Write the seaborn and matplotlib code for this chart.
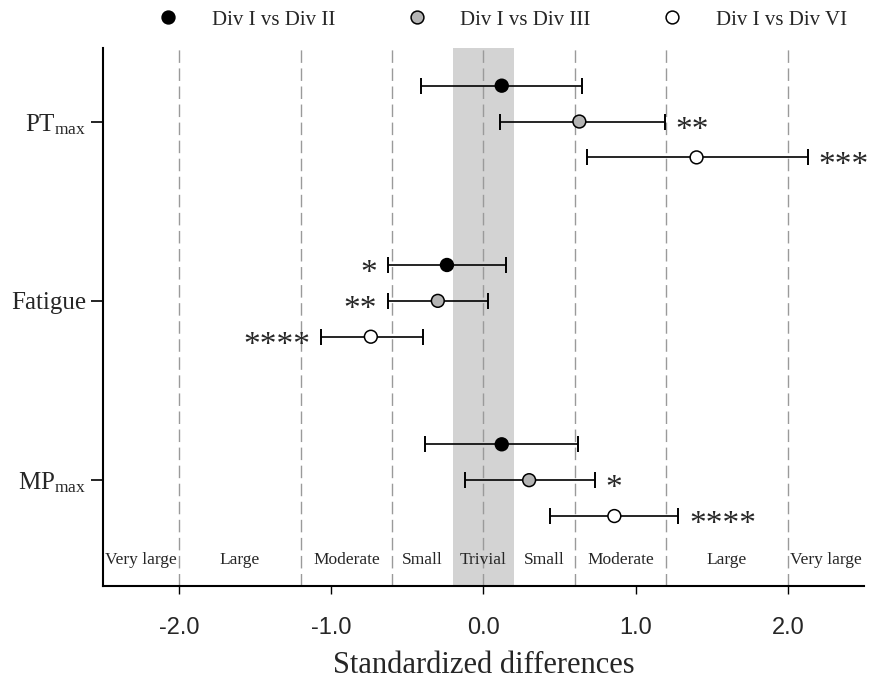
import numpy as np
import pandas as pd
import matplotlib
matplotlib.use("Agg")
import matplotlib.pyplot as plt
import seaborn as sns

# ---------------- data ----------------
measures = ["PT_max", "Fatigue", "MP_max"]
measure_labels = [r"PT$_{\mathrm{max}}$", "Fatigue", r"MP$_{\mathrm{max}}$"]
comparisons = ["Div I vs Div II", "Div I vs Div III", "Div I vs Div VI"]

pt_effect = [0.12, 0.63, 1.40]
pt_lower = [-0.41, 0.11, 0.68]
pt_upper = [0.65, 1.19, 2.13]
pt_stars = ["", "**", "***"]

fatigue_effect = [-0.24, -0.30, -0.74]
fatigue_lower = [-0.63, -0.63, -1.07]
fatigue_upper = [0.15, 0.03, -0.40]
fatigue_stars = ["*", "**", "****"]

mp_effect = [0.12, 0.30, 0.86]
mp_lower = [-0.385, -0.12, 0.44]
mp_upper = [0.62, 0.73, 1.28]
mp_stars = ["", "*", "****"]

thresholds = [-2.0, -1.2, -0.6, 0.0, 0.6, 1.2, 2.0]
zone_labels = ["Very large", "Large", "Moderate", "Small", "Trivial",
               "Small", "Moderate", "Large", "Very large"]
zone_centers = [-2.25, -1.6, -0.9, -0.4, 0.0, 0.4, 0.9, 1.6, 2.25]
xticks = [-2.0, -1.0, 0.0, 1.0, 2.0]
xtick_labels = ["-2.0", "-1.0", "0.0", "1.0", "2.0"]

# ---------------- table ----------------
offsets = [-0.2, 0.0, 0.2]
rows = []
for mi, (eff, lo, hi, st) in enumerate([
        (pt_effect, pt_lower, pt_upper, pt_stars),
        (fatigue_effect, fatigue_lower, fatigue_upper, fatigue_stars),
        (mp_effect, mp_lower, mp_upper, mp_stars)]):
    for ci in range(3):
        rows.append(dict(measure=measures[mi], comparison=comparisons[ci],
                         effect=eff[ci], lower=lo[ci], upper=hi[ci],
                         stars=st[ci], y=mi + offsets[ci]))
df = pd.DataFrame(rows)

# ---------------- style ----------------
sns.set_style("ticks")
plt.rcParams["font.family"] = ["Liberation Serif", "DejaVu Serif"]
plt.rcParams["mathtext.fontset"] = "custom"
plt.rcParams["mathtext.rm"] = "Liberation Serif"
plt.rcParams["mathtext.it"] = "Liberation Serif:italic"
plt.rcParams["axes.unicode_minus"] = False

fig = plt.figure(figsize=(8.69, 6.82), dpi=100)
ax = fig.add_axes([0.1185, 0.1408, 0.8757, 0.7888])

# trivial band and threshold lines
ax.axvspan(-0.2, 0.2, color="#d3d3d3", lw=0, zorder=0)
for t in thresholds:
    ax.axvline(t, color="#9a9a9a", lw=1.0, dashes=(9, 4), zorder=1)

# error bars
ax.errorbar(df["effect"], df["y"],
            xerr=[df["effect"] - df["lower"], df["upper"] - df["effect"]],
            fmt="none", ecolor="black", elinewidth=1.2, capsize=6,
            capthick=1.4, zorder=2)

palette = {comparisons[0]: "black", comparisons[1]: "#b4b4b4",
           comparisons[2]: "white"}
sns.scatterplot(data=df, x="effect", y="y", hue="comparison",
                hue_order=comparisons, palette=palette, s=85,
                edgecolor="black", linewidth=1.1, zorder=3, ax=ax)

# significance stars
for _, r in df.iterrows():
    if not r["stars"]:
        continue
    if r["effect"] < 0:
        ax.text(r["lower"] - 0.07, r["y"] + 0.095, r["stars"], ha="right",
                va="baseline", fontsize=24)
    else:
        ax.text(r["upper"] + 0.07, r["y"] + 0.095, r["stars"], ha="left",
                va="baseline", fontsize=24)

# zone labels
for xc, lab in zip(zone_centers, zone_labels):
    ax.text(xc, 2.446, lab, ha="center", va="center", fontsize=12.5)

ax.set_xlim(-2.5, 2.5)
ax.set_ylim(2.59, -0.41)
ax.set_xticks(xticks)
ax.set_xticklabels(xtick_labels, fontsize=17, family="Liberation Sans")
ax.set_yticks([0, 1, 2])
ax.set_yticklabels(measure_labels, fontsize=18)
ax.tick_params(axis="x", length=6, width=1.0, pad=16, color="black")
ax.tick_params(axis="y", length=9, width=1.2, pad=3, color="black")
ax.set_xlabel("Standardized differences", fontsize=22, labelpad=9)
ax.set_ylabel("")
sns.despine(ax=ax, top=True, right=True)
for s in ["left", "bottom"]:
    ax.spines[s].set_linewidth(1.5)
    ax.spines[s].set_color("black")

sns.move_legend(ax, "center", bbox_to_anchor=(0.578, 0.971),
                bbox_transform=fig.transFigure, ncol=3, frameon=False,
                title=None, fontsize=15, handlelength=1.0,
                handletextpad=1.6, columnspacing=3.4)

fig.savefig("out.png", dpi=100)
